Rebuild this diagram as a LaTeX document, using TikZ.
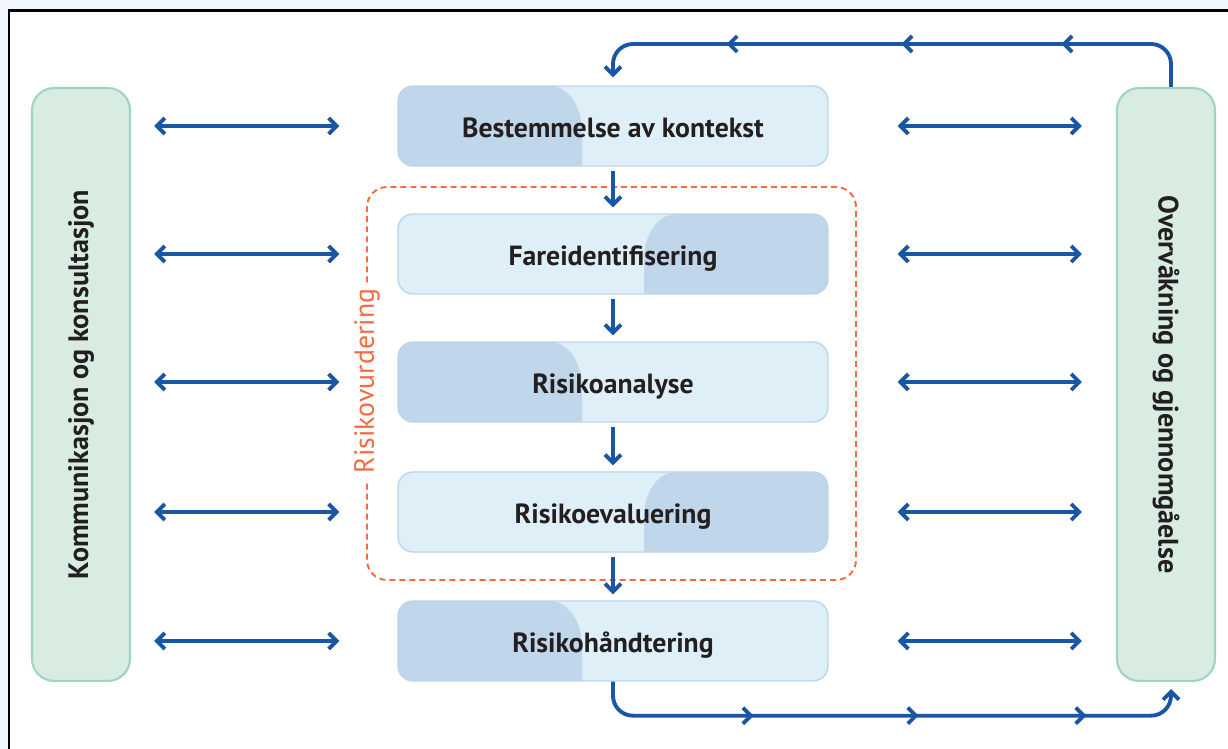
\documentclass[tikz,border=0pt]{standalone}
\usepackage{fontspec}
\setmainfont{PT Sans}
\usetikzlibrary{arrows.meta,decorations.markings}
\definecolor{linkblue}{RGB}{27,86,165}
\definecolor{stagefill}{RGB}{223,239,248}
\definecolor{stagedark}{RGB}{192,214,234}
\definecolor{stageline}{RGB}{188,213,236}
\definecolor{sidefill}{RGB}{216,236,225}
\definecolor{sideline}{RGB}{158,214,189}
\definecolor{riskorange}{RGB}{242,108,64}
\definecolor{pagebg}{RGB}{240,246,252}
\definecolor{inktext}{RGB}{35,31,32}
\tikzset{
  linktip/.tip={Straight Barb[length=0.16cm,width=0.32cm]},
  stage/.style={draw=stageline,line width=0.8pt,fill=stagefill,rounded corners=0.3cm,
    minimum width=8.6cm,minimum height=1.6cm,text=inktext,text height=13pt,text depth=0pt,
    font=\fontsize{15.8}{18}\selectfont\bfseries},
  darkleft/.style={path picture={\fill[stagedark,sharp corners]
    ([shift={(-0.2cm,-0.2cm)}]path picture bounding box.south west)
    -- ([xshift=-0.2cm]path picture bounding box.north west)
    -- ([xshift=3.04cm]path picture bounding box.north west)
    arc[start angle=90,end angle=0,x radius=0.64cm,y radius=0.9cm]
    -- ([xshift=3.68cm,yshift=-0.2cm]path picture bounding box.south west) -- cycle;}},
  darkright/.style={path picture={\fill[stagedark,sharp corners]
    ([shift={(0.2cm,-0.2cm)}]path picture bounding box.south east)
    -- ([xshift=0.2cm]path picture bounding box.north east)
    -- ([xshift=-3.04cm]path picture bounding box.north east)
    arc[start angle=90,end angle=180,x radius=0.64cm,y radius=0.9cm]
    -- ([xshift=-3.68cm,yshift=-0.2cm]path picture bounding box.south east) -- cycle;}},
  side/.style={draw=sideline,line width=1.2pt,fill=sidefill,rounded corners=0.44cm,
    minimum width=11.86cm,minimum height=1.96cm,text=inktext,
    font=\fontsize{16}{18}\selectfont\bfseries},
  link/.style={draw=linkblue,line width=2.2pt,linktip-linktip},
  flow/.style={draw=linkblue,line width=2.2pt,-linktip,shorten <=0.08cm,shorten >=0.12cm},
  loopback/.style={draw=linkblue,line width=2.2pt,-linktip,rounded corners=0.4cm,postaction={decorate}},
  riskframe/.style={draw=riskorange,line width=1.1pt,dash pattern=on 3.4pt off 2.3pt,rounded corners=0.4cm}
}
\begin{document}
\begin{tikzpicture}[x=0.02cm,y=-0.02cm]
\useasboundingbox (0,0) rectangle (1228,749);
\fill[pagebg] (0,0) rectangle (1228,749);
\fill[white] (9,11) rectangle (1228,749);
\draw[line width=1.7pt] (9,749) -- (9,11) -- (1228,11);

\node (ctx) at (613,126) [stage,darkleft] {Bestemmelse av kontekst};
\node (fare) at (613,254) [stage,darkright] {Fareidentifisering};
\node (analyse) at (613,382) [stage,darkleft] {Risikoanalyse};
\node (evaluering) at (613,512) [stage,darkright] {Risikoevaluering};
\node (handtering) at (613,641) [stage,darkleft] {Risikohåndtering};
\node (komm) at (81,384.5) [side,rotate=90] {Kommunikasjon og konsultasjon};
\node (overv) at (1166,384.5) [side,rotate=-90] {Overvåkning og gjennomgåelse};
\node (vurd) at (367,381) [rotate=90,text=riskorange,inner sep=3.5pt,font=\fontsize{15.8}{18}\selectfont] {Risikovurdering};

\draw[riskframe] (vurd.east) |- (856,187) |- (367,580) -- (vurd.west);

\foreach \n in {ctx,fare,analyse,evaluering,handtering} {
  \draw[link,shorten <=0.46cm,shorten >=1.16cm] (komm.south |- \n) -- (\n.west);
  \draw[link,shorten <=1.38cm,shorten >=0.68cm] (\n.east) -- (overv.south |- \n);
}
\foreach \a/\b in {ctx/fare,analyse/evaluering,fare/analyse,evaluering/handtering}
  \draw[flow] (\a) -- (\b);

\draw[loopback,shorten >=0.16cm,decoration={markings,
    mark=at position 2.88cm with {\arrow{linktip}},
    mark=at position 6.08cm with {\arrow{linktip}},
    mark=at position 9.58cm with {\arrow{linktip}}}]
  ([xshift=0.1cm]overv.west) -- ++(0,-43) -| (ctx.north);
\draw[loopback,shorten >=0.14cm,decoration={markings,
    mark=at position 3.32cm with {\arrow{linktip}},
    mark=at position 6.62cm with {\arrow{linktip}},
    mark=at position 9.98cm with {\arrow{linktip}}}]
  (handtering.south) -- ++(0,34) -| ([xshift=0.1cm]overv.east);
\end{tikzpicture}
\end{document}
